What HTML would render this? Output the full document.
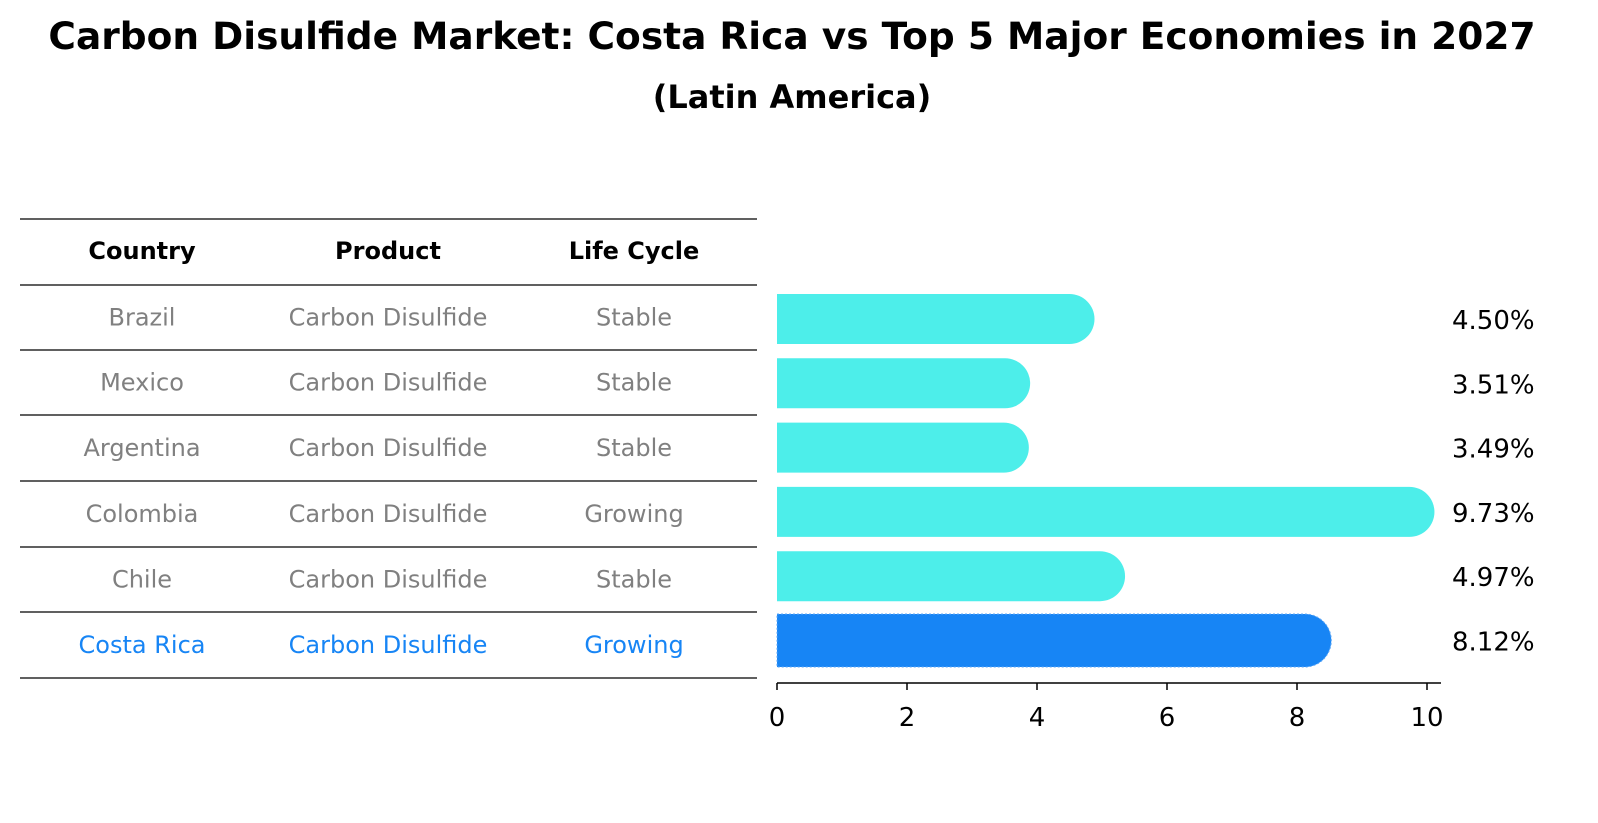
<!DOCTYPE html>
<html><head><meta charset="utf-8"><style>
body{margin:0;background:#fff;font-family:"DejaVu Sans","Liberation Sans",sans-serif;}
#wrap{position:relative;width:1598px;height:823px;overflow:hidden;}
</style></head><body>
<div id="wrap">
<svg id="svg" width="1598" height="823" xmlns="http://www.w3.org/2000/svg">
<text x="792" y="49" text-anchor="middle" font-size="37.5" font-weight="bold">Carbon Disulfide Market: Costa Rica vs Top 5 Major Economies in 2027</text>
<text x="792" y="108" text-anchor="middle" font-size="32" font-weight="bold">(Latin America)</text>
<g id="table"></g>
<g id="bars"></g>
</svg>
</div>
<script>
const countries=["Brazil","Mexico","Argentina","Colombia","Chile","Costa Rica"];
const products=["Carbon Disulfide","Carbon Disulfide","Carbon Disulfide","Carbon Disulfide","Carbon Disulfide","Carbon Disulfide"];
const lifecycles=["Stable","Stable","Stable","Growing","Stable","Growing"];
const values=[4.50,3.51,3.49,9.73,4.97,8.12];
const ticks=[0,2,4,6,8,10];
const NS="http://www.w3.org/2000/svg";
const svg=document.getElementById('svg');
function mk(tag,attrs,parent,txt){const e=document.createElementNS(NS,tag);for(const k in attrs)e.setAttribute(k,attrs[k]);if(txt!==undefined)e.textContent=txt;parent.appendChild(e);return e;}
const x0=777,pxu=65;
function xs(v){return x0+v*pxu;}
function rowY(i){return 319+i*64.3;}
const tbl=document.getElementById('table');
const lines=[219,285,350,415,481,547,612,678];
lines.forEach((y,i)=>{const l=mk('line',{x1:20,x2:757,y1:y,y2:y,stroke:'#000','stroke-width':1.2},tbl);

});
const colX=[142,388,634];
["Country","Product","Life Cycle"].forEach((h,j)=>{const t=mk('text',{x:colX[j],y:259,'text-anchor':'middle','font-size':24,'font-weight':'bold'},tbl,h);

});
countries.forEach((c,i)=>{const y=(lines[i+1]+lines[i+2])/2+8;const col=c==="Costa Rica"?'#1785f5':'#808080';
[c,products[i],lifecycles[i]].forEach((v,j)=>{const t=mk('text',{x:colX[j],y:y,'text-anchor':'middle','font-size':24,fill:col},tbl,v);

});});
const bars=document.getElementById('bars');
values.forEach((v,i)=>{const cy=rowY(i);const hi=countries[i]==="Costa Rica";const h=hi?53:50;const col=hi?'#1785f5':'#4deeea';
const r=h/2;const xe=xs(v);
const p=mk('path',{d:`M${x0},${cy-r} L${xe},${cy-r} A${r},${r} 0 0 1 ${xe},${cy+r} L${x0},${cy+r} Z`,fill:col},bars);
if(hi){p.setAttribute('stroke','#5fa8f7');p.setAttribute('stroke-dasharray','2,2');p.setAttribute('stroke-width','1');}


const t=mk('text',{x:1452,y:cy+10,'font-size':26},bars,v.toFixed(2)+'%');

});
const ax=mk('line',{x1:x0,x2:1441,y1:683,y2:683,stroke:'#000','stroke-width':1.5},bars);


ticks.forEach(t=>{const l=mk('line',{x1:xs(t),x2:xs(t),y1:683,y2:690,stroke:'#000','stroke-width':1.5},bars);


const tx=mk('text',{x:xs(t),y:726,'text-anchor':'middle','font-size':26},bars,String(t));

});
</script>
</body></html>
